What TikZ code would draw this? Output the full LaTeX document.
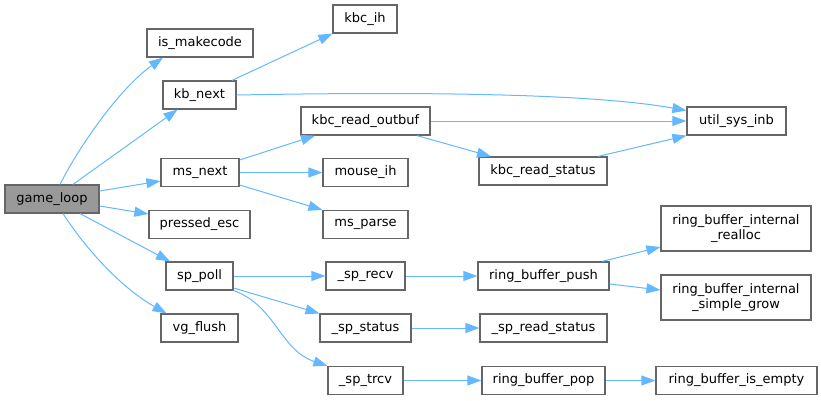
\documentclass[tikz,border=0pt]{standalone}
\usepackage{fontspec}
\setmainfont{DejaVu Sans}
\usetikzlibrary{arrows.meta}
\definecolor{edgeblue}{HTML}{63B8FF}
\definecolor{boxgray}{HTML}{666666}
\definecolor{fillgray}{HTML}{999999}
\begin{document}
\begin{tikzpicture}[x=1pt,y=-1pt,
  fn/.style={draw=boxgray,line width=1.2pt,fill=white,inner sep=0pt,minimum height=28pt,
    font=\fontsize{13}{15}\selectfont,align=center},
  fn2/.style={fn,minimum height=45pt},
  call/.style={draw=edgeblue,line width=1pt,-{Triangle[length=14pt,width=10pt]}}]
\useasboundingbox (0,0) rectangle (821,400);
\node[fn,fill=fillgray,minimum width=94pt] (gl) at (52,199) {game\_loop};
\node[fn,minimum width=106pt] (ismk) at (200,43) {is\_makecode};
\node[fn,minimum width=64pt] (kbcih) at (365,19) {kbc\_ih};
\node[fn,minimum width=73pt] (kbn) at (199.5,95) {kb\_next};
\node[fn,minimum width=129pt] (kro) at (365.5,121) {kbc\_read\_outbuf};
\node[fn,minimum width=99pt] (usi) at (736.5,121) {util\_sys\_inb};
\node[fn,minimum width=128pt] (krs) at (543,171) {kbc\_read\_status};
\node[fn,minimum width=78pt] (msn) at (200,172.5) {ms\_next};
\node[fn,minimum width=85pt] (mih) at (365.5,172.5) {mouse\_ih};
\node[fn,minimum width=101pt] (pesc) at (199.5,224.5) {pressed\_esc};
\node[fn,minimum width=85pt] (msp) at (365.5,224.5) {ms\_parse};
\node[fn,minimum width=67pt] (spp) at (199.5,276) {sp\_poll};
\node[fn,minimum width=79pt] (sprecv) at (365.5,276) {\_sp\_recv};
\node[fn,minimum width=77pt] (vgf) at (199.5,328) {vg\_flush};
\node[fn,minimum width=91pt] (spst) at (365.5,328) {\_sp\_status};
\node[fn,minimum width=75pt] (sptrcv) at (365.5,380.5) {\_sp\_trcv};
\node[fn,minimum width=131pt] (rbpush) at (543.5,276) {ring\_buffer\_push};
\node[fn2,minimum width=150pt] (rbrealloc) at (736,228.5) {ring\_buffer\_internal\\\_realloc};
\node[fn2,minimum width=150pt] (rbgrow) at (736,297.5) {ring\_buffer\_internal\\\_simple\_grow};
\node[fn,minimum width=127pt] (sprs) at (543.5,328) {\_sp\_read\_status};
\node[fn,minimum width=123pt] (rbpop) at (543.5,380.5) {ring\_buffer\_pop};
\node[fn,minimum width=161pt] (rbempty) at (736.5,380.5) {ring\_buffer\_is\_empty};

\draw[call] ([xshift=8pt]gl.north) .. controls (80,145) and (120,88) .. ([xshift=-37pt]ismk.south);
\draw[call] ([xshift=21pt]gl.north) -- ([xshift=-22pt]kbn.south);
\draw[call] ([yshift=8pt]gl.east) -- ([yshift=-8.5pt]msn.west);
\draw[call] ([yshift=-7pt]gl.east) -- ([yshift=10.5pt]pesc.west);
\draw[call] ([xshift=28pt]gl.south) -- ([xshift=-29.5pt]spp.north);
\draw[call] ([xshift=11pt]gl.south) .. controls (90,255) and (125,290) .. ([xshift=-33pt]vgf.north);

\draw[call] ([xshift=32.5pt]kbn.north) -- (kbcih.south west);
\draw[call] (kbn.east) .. controls (450,91) and (600,95) .. ([yshift=10.5pt]usi.west);
\draw[call] (kro.east) -- (usi.west);
\draw[call] ([xshift=51.5pt]kro.south) -- ([xshift=-52pt]krs.north);
\draw[call] ([xshift=55pt]krs.north) -- (usi.south west);

\draw[call] ([yshift=12.5pt]msn.east) -- ([xshift=-50.5pt]kro.south);
\draw[call] (msn.east) -- (mih.west);
\draw[call] ([yshift=-12.5pt]msn.east) -- (msp.north west);

\draw[call] (spp.east) -- (sprecv.west);
\draw[call] ([yshift=-12pt]spp.east) -- (spst.north west);
\draw[call] (spp.south east) .. controls (275,305) and (280,350) .. (sptrcv.north west);

\draw[call] (sprecv.east) -- (rbpush.west);
\draw[call] (spst.east) -- (sprs.west);
\draw[call] (sptrcv.east) -- (rbpop.west);

\draw[call] ([xshift=58.5pt]rbpush.north) -- ([yshift=-18.5pt]rbrealloc.west);
\draw[call] ([yshift=-8pt]rbpush.east) -- ([yshift=7.5pt]rbgrow.west);
\draw[call] (rbpop.east) -- (rbempty.west);
\end{tikzpicture}
\end{document}
